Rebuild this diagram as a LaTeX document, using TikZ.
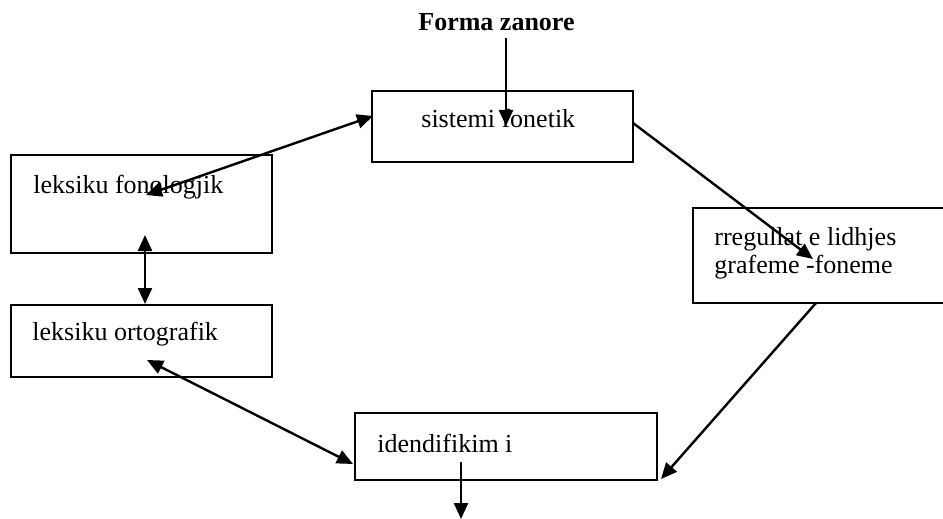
\documentclass[tikz,border=0pt]{standalone}
\usepackage{fontspec}
\setmainfont{Liberation Serif}
\usetikzlibrary{arrows.meta}

\begin{document}
\begin{tikzpicture}[
    x=0.5pt, y=-0.5pt,
    every node/.style={font=\fontsize{13pt}{15pt}\selectfont},
    box/.style={draw, line width=1pt, inner sep=0pt},
    txt/.style={anchor=base west, inner sep=0pt},
    arr/.style={line width=1.2pt, -{Triangle[length=8pt, width=7pt]}},
    darr/.style={line width=1.2pt, {Triangle[length=8pt, width=7pt]}-{Triangle[length=8pt, width=7pt]}}
]
\useasboundingbox (0,0) rectangle (943,519);

% ===== title =====
\node[txt, font=\fontsize{13pt}{15pt}\selectfont\bfseries] (zanore) at (418,31) {Forma zanore};

% ===== boxes =====
\node[box, minimum width=130.5pt, minimum height=35.5pt] (fonetik) at (502.5,126.5) {};
\node[box, minimum width=130.5pt, minimum height=49pt] (fonologjik) at (141.5,204) {};
\node[box, minimum width=130.5pt, minimum height=36pt] (ortografik) at (141.5,341) {};
\node[box, minimum width=133.5pt, minimum height=47.5pt] (rregullat) at (826.5,255.5) {};
\node[box, minimum width=151pt, minimum height=33.5pt] (identifikim) at (506,446.5) {};

% ===== box texts =====
\node[txt] (tFonetik) at (421,127) {sistemi fonetik};
\node[txt] (tFonologjik) at (33,193) {leksiku fonologjik};
\node[txt] (tOrtografik) at (32,340) {leksiku ortografik};
\node[txt] (tRregullat) at (714,245) {rregullat e lidhjes};
\node[txt] (tGrafeme) at (714,273) {grafeme -foneme};
\node[txt] (tIdentifikim) at (377,452) {idendifikim i};

% ===== arrow ends =====
\coordinate (zanoreEnd) at (506,38);
\coordinate (fonetikIn) at (506,126);
\coordinate (fonologjikIn) at (146,195);
\coordinate (fonetikWest) at (373,116);
\coordinate (fonologjikSouth) at (145,235);
\coordinate (ortografikNorth) at (145,304);
\coordinate (ortografikIn) at (147,360);
\coordinate (identifikimWest) at (353,464);
\coordinate (fonetikEast) at (633,123);
\coordinate (rregullatIn) at (813,259);
\coordinate (rregullatSouth) at (816,303);
\coordinate (identifikimEast) at (661,479);
\coordinate (identifikimIn) at (461,462);
\coordinate (outEnd) at (461,519);

% ===== connectors =====
\draw[arr] (zanoreEnd) -- (fonetikIn);
\draw[darr] (fonologjikIn) -- (fonetikWest);
\draw[darr] (fonologjikSouth) -- (ortografikNorth);
\draw[darr] (ortografikIn) -- (identifikimWest);
\draw[arr] (fonetikEast) -- (rregullatIn);
\draw[arr] (rregullatSouth) -- (identifikimEast);
\draw[arr] (identifikimIn) -- (outEnd);

\end{tikzpicture}
\end{document}
